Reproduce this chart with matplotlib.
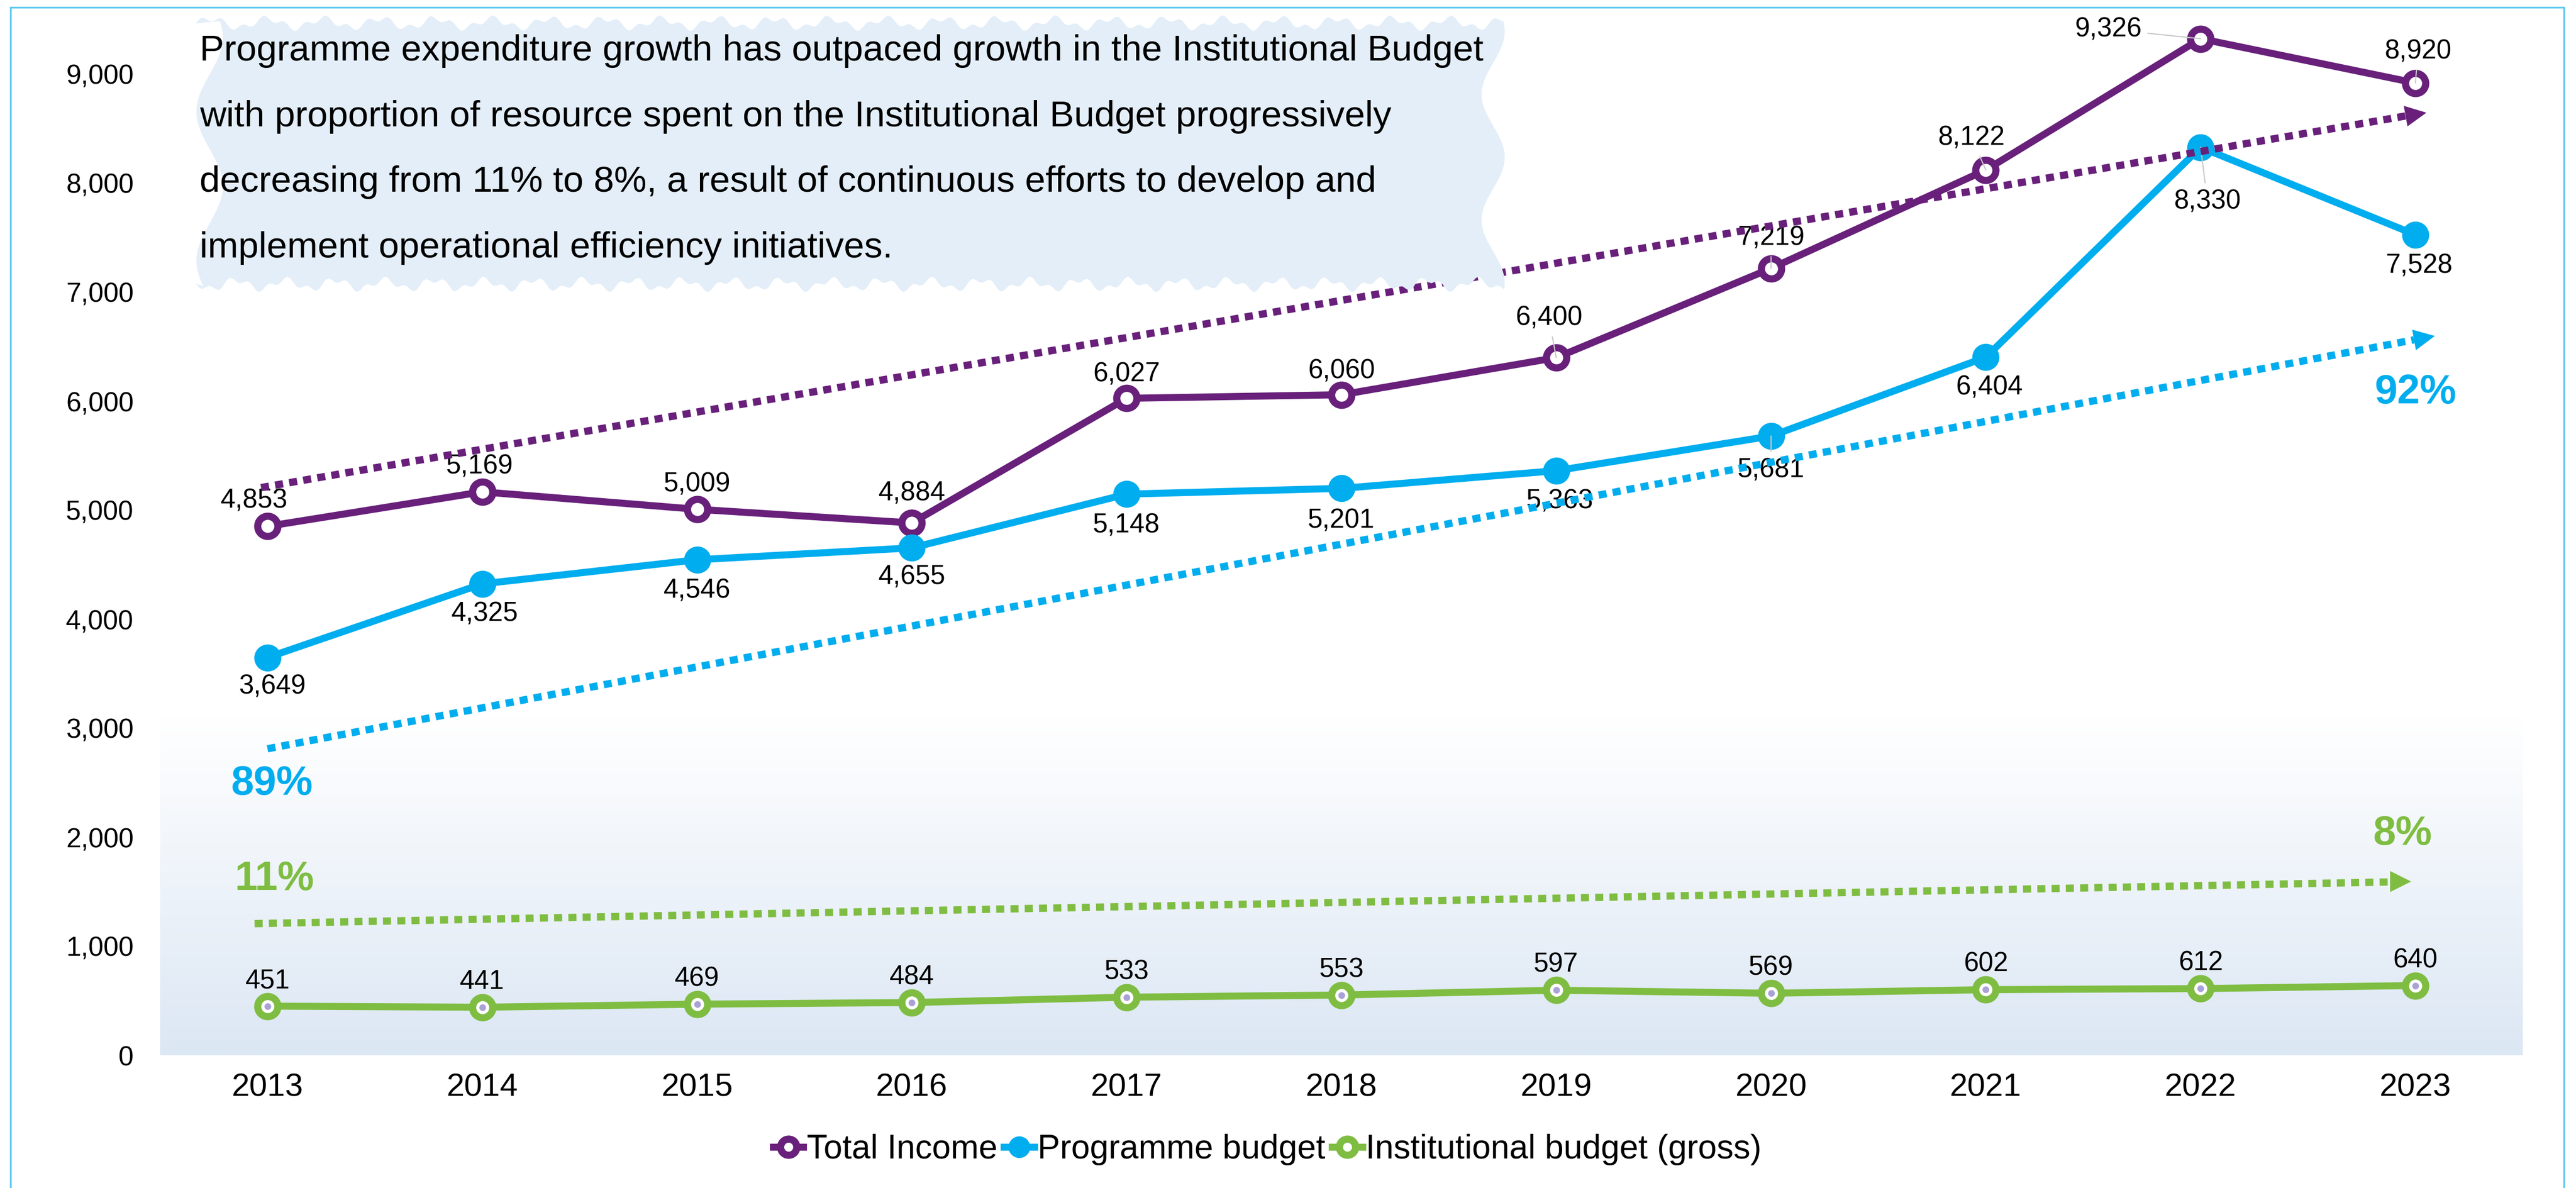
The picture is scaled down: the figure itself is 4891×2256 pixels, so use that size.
import numpy as np
import matplotlib
matplotlib.use("Agg")
import matplotlib.pyplot as plt
from matplotlib.markers import MarkerStyle
from matplotlib.transforms import Affine2D
from matplotlib.patches import Rectangle, Polygon
from matplotlib.ticker import FuncFormatter

# ---------------- data ----------------
years = ["2013", "2014", "2015", "2016", "2017", "2018", "2019", "2020", "2021", "2022", "2023"]
total_income = [4853, 5169, 5009, 4884, 6027, 6060, 6400, 7219, 8122, 9326, 8920]
programme_budget = [3649, 4325, 4546, 4655, 5148, 5201, 5363, 5681, 6404, 8330, 7528]
institutional_budget = [451, 441, 469, 484, 533, 553, 597, 569, 602, 612, 640]

# trend arrows (start value, end value)
trend_total = [5208, 8650]
trend_programme = [2812, 6600]
trend_institutional = [1208, 1594]

share_labels_programme = ["89%", "92%"]
share_labels_institutional = ["11%", "8%"]

note_lines = [
    "Programme expenditure growth has outpaced growth in the Institutional Budget",
    "with proportion of resource spent on the Institutional Budget progressively",
    "decreasing from 11% to 8%, a result of continuous efforts to develop and",
    "implement operational efficiency initiatives.",
]

# ---------------- style ----------------
PURPLE = "#68207A"
BLUE = "#00ADEE"
GREEN = "#7FBD42"
LAVENDER = "#A9A2D6"
W, H, DPI = 4891, 2256, 200
plt.rcParams["font.family"] = ["Liberation Sans", "DejaVu Sans"]

fig = plt.figure(figsize=(W / DPI, H / DPI), dpi=DPI)
fig.patch.set_facecolor("white")

ax_left, ax_right, ax_bottom_px, ax_top_px = 304, 4790, 2004, 37.5
ax = fig.add_axes([ax_left / W, 1 - ax_bottom_px / H,
                   (ax_right - ax_left) / W, (ax_bottom_px - ax_top_px) / H])
ax.set_xlim(-0.5, 10.5)
ax.set_ylim(0, 9500)
for s in ax.spines.values():
    s.set_visible(False)
ax.set_facecolor("none")

# background gradient in the lower part of the plot area
grad = np.linspace(0, 1, 256).reshape(-1, 1)
c_bot = np.array([220, 231, 244]) / 255
c_top = np.array([1.0, 1.0, 1.0])
img = c_bot[None, None, :] * (1 - grad[:, :, None]) + c_top[None, None, :] * grad[:, :, None]
ax.imshow(img, extent=(-0.5, 10.5, 0, 3100), origin="lower", aspect="auto", zorder=0)

x = np.arange(len(years))
ax.set_xticks(x)
ax.set_xticklabels(years, fontsize=22)
ax.set_yticks(np.arange(0, 9001, 1000))
ax.yaxis.set_major_formatter(FuncFormatter(lambda v, p: f"{int(v):,}"))
ax.tick_params(axis="y", length=0, pad=18, labelsize=18.5)
ax.tick_params(axis="x", length=0, pad=12)

LW = 4.8
ax.plot(x, total_income, color=PURPLE, lw=LW, marker="o", ms=13.8, mew=4.9,
        mfc="white", mec=PURPLE, zorder=3, label="Total Income")
ax.plot(x, programme_budget, color=BLUE, lw=LW, marker="o", ms=18.5, mew=0,
        mfc=BLUE, zorder=3, label="Programme budget")
ax.plot(x, institutional_budget, color=GREEN, lw=LW, marker="o", ms=13.8, mew=4.9,
        mfc="white", mec=GREEN, zorder=3, label="Institutional budget (gross)")
ax.plot(x, institutional_budget, ls="none", marker="o", ms=4.6, mew=0,
        mfc=LAVENDER, zorder=3.1)

# data labels: offsets in pixels (dx, dy), leader-line flags
off_total = [(-25, 48), (-5, 48), (0, 47), (0, 56), (0, 45), (0, 45), (-14, 75),
             (0, 58), (-27, 61), (-175, 18), (5, 60)]
lead_total = [0, 0, 0, 0, 0, 0, 1, 1, 1, 1, 1]
off_prog = [(9, -55), (5, -57), (0, -59), (0, -56), (0, -60), (0, -62), (7, -58),
            (0, -65), (7, -58), (13, -103), (7, -59)]
lead_prog = [0, 0, 0, 0, 0, 0, 0, 1, 0, 1, 0]
off_inst = [(0, 48)] * 11

leader = dict(arrowstyle="-", color="#C8C8C8", lw=0.8, shrinkA=2, shrinkB=0)


def add_labels(vals, offs, leads):
    for i, v in enumerate(vals):
        kw = {}
        if leads[i]:
            kw["arrowprops"] = leader
        ax.annotate(f"{v:,}", xy=(x[i], v), xytext=offs[i], textcoords="offset pixels",
                    ha="center", va="center", fontsize=18.3, color="black", zorder=3.5, **kw)


add_labels(total_income, off_total, lead_total)
add_labels(programme_budget, off_prog, lead_prog)
add_labels(institutional_budget, off_inst, [0] * 11)

# trend arrows
HEAD_PX = 40
TREND_LW = 5.0


def trend(vals, x0, x1, color):
    p0 = ax.transData.transform((x0, vals[0]))
    p1 = ax.transData.transform((x1, vals[1]))
    d = p1 - p0
    d = d / np.hypot(*d)
    ang = np.degrees(np.arctan2(d[1], d[0]))
    end = ax.transData.inverted().transform(p1 - d * HEAD_PX)
    mid = ax.transData.inverted().transform(p1 - d * HEAD_PX / 2)
    ax.plot([x0, end[0]], [vals[0], end[1]], color=color, lw=TREND_LW,
            ls=(0, (1.1, 0.85)), solid_capstyle="butt", dash_capstyle="butt", zorder=5)
    m = MarkerStyle(">", transform=Affine2D().rotate_deg(ang))
    ax.plot([mid[0]], [mid[1]], ls="none", marker=m, ms=HEAD_PX / (DPI / 72),
            mfc=color, mew=0, zorder=5)


trend(trend_total, -0.03, 10.05, PURPLE)
trend(trend_programme, 0.0, 10.09, BLUE)
trend(trend_institutional, -0.06, 9.98, GREEN)

# share labels
ax.text(0.02, 2488, share_labels_programme[0], color=BLUE, fontsize=28, fontweight="bold",
        ha="center", va="center", zorder=6)
ax.text(10.0, 6082, share_labels_programme[1], color=BLUE, fontsize=28, fontweight="bold",
        ha="center", va="center", zorder=6)
ax.text(0.03, 1618, share_labels_institutional[0], color=GREEN, fontsize=28, fontweight="bold",
        ha="center", va="center", zorder=6)
ax.text(9.94, 2029, share_labels_institutional[1], color=GREEN, fontsize=28, fontweight="bold",
        ha="center", va="center", zorder=6)

# note blob
xs = np.arange(372, 2862, 6.0)
top_y = 44 + 9 * np.sin(xs / 17.0) + 6 * np.sin(xs / 6.3 + 0.7)
ys_r = np.arange(40, 545, 6.0)
right_x = 2835 + 22 * np.sin(ys_r / 38.0)
bot_y = 540 + 9 * np.sin(xs / 15.0) + 6 * np.sin(xs / 5.9)
left_x = 398 + 25 * np.sin(ys_r / 45.0)
px = np.concatenate([xs, right_x, xs[::-1], left_x[::-1]])
py = np.concatenate([top_y, ys_r, bot_y[::-1], ys_r[::-1]])
blob = Polygon(np.column_stack([px / W, 1 - py / H]), closed=True, transform=fig.transFigure,
               facecolor="#E3EEF8", edgecolor="none", zorder=0.5)
fig.patches.append(blob)

baselines = [115, 240, 364, 489]
for line, b in zip(note_lines, baselines):
    fig.text(379 / W, 1 - b / H, line, fontsize=25, color="black", ha="left", va="baseline",
             zorder=2)

# outer frame
frame = Rectangle((20 / W, -0.02), (4868 - 20) / W, 1.02 - 14 / H, transform=fig.transFigure,
                  fill=False, edgecolor="#5CC8F2", lw=1.2, zorder=10)
fig.patches.append(frame)

# legend
leg = fig.legend(loc="center", bbox_to_anchor=(0.492, 1 - 2183 / H), ncol=3, frameon=False,
                 fontsize=23, handlelength=0.9, handletextpad=0.1, columnspacing=0.2,
                 markerscale=0.8)

fig.savefig("out.png", dpi=DPI, facecolor="white")
